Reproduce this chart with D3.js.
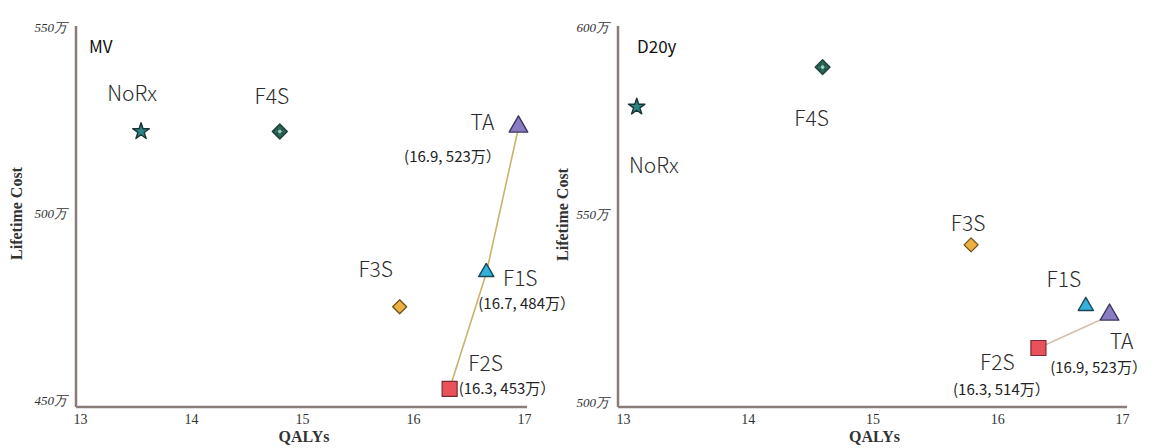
<!DOCTYPE html>
<html>
<head>
<meta charset="utf-8">
<script src="https://cdn.jsdelivr.net/npm/d3@7"></script>
<style>
  html, body { margin: 0; padding: 0; background: #ffffff; }
  svg { display: block; }
</style>
</head>
<body>
<svg id="chart" width="1163" height="448"></svg>
<script>
// ---------------- data ----------------
const categories = ["NoRx", "F4S", "F3S", "F1S", "F2S", "TA"];
const mvQALY   = [13.55, 14.80, 15.88, 16.66, 16.33, 16.95];
const mvCost   = [522, 522, 475, 484, 453, 523];
const d20QALY  = [13.11, 14.60, 15.79, 16.71, 16.33, 16.90];
const d20Cost  = [578.7, 589.3, 541.9, 525.3, 514.4, 523];
const xTicks     = [13, 14, 15, 16, 17];
const mvYTicks   = [450, 500, 550];
const d20YTicks  = [500, 550, 600];
const mvFrontier  = ["F2S", "F1S", "TA"];
const d20Frontier = ["F2S", "TA"];
const mvNotes  = { TA: "(16.9, 523万）", F1S: "(16.7, 484万）", F2S: "(16.3, 453万）" };
const d20Notes = { TA: "(16.9, 523万）", F2S: "(16.3, 514万）" };
const panelTitles = ["MV", "D20y"];
const xTitle = "QALYs";
const yTitle = "Lifetime Cost";

// ---------------- styles / layout ----------------
const markerStyle = {
  NoRx: { type: "star",     fill: "#2a8684", stroke: "#1c3434", size: 85 },
  F4S:  { type: "f4s",      fill: "#3b7b6c", stroke: "#1f3c36", size: 15 },
  F3S:  { type: "diamond",  fill: "#eeb043", stroke: "#6b5220", size: 14 },
  F1S:  { type: "triangle", fill: "#30b2da", stroke: "#1d4756", size: 100 },
  F2S:  { type: "square",   fill: "#e9515b", stroke: "#7a2a30", size: 225 },
  TA:   { type: "triangle", fill: "#8a7cc2", stroke: "#3c345e", size: 150 }
};

const panels = [
  {
    title: panelTitles[0], qaly: mvQALY, cost: mvCost, yTicks: mvYTicks,
    frontier: mvFrontier, notes: mvNotes, lineColor: "#c9b36c",
    xRange: [80, 524], yRange: [400, 27], yDomain: [450, 550],
    axisX: 76, axisY: 407, axisRight: 527, yTitleX: 18, titlePos: [89, 48],
    labelOff: {
      NoRx: [-9, -36, "middle"], F4S: [-8, -33, "middle"], F3S: [-24, -35, "middle"],
      F1S: [34, 7, "middle"], F2S: [36, -24, "middle"], TA: [-36, -3, "middle"]
    },
    noteOff: {
      TA: [-66, 30, "middle"], F1S: [-8, 32, "start"], F2S: [9, 1, "start"]
    }
  },
  {
    title: panelTitles[1], qaly: d20QALY, cost: d20Cost, yTicks: d20YTicks,
    frontier: d20Frontier, notes: d20Notes, lineColor: "#d4c0ae",
    xRange: [623, 1122], yRange: [402, 27], yDomain: [500, 600],
    axisX: 618, axisY: 407, axisRight: 1127, yTitleX: 564, titlePos: [637, 48],
    labelOff: {
      NoRx: [17, 60, "middle"], F4S: [-11, 53, "middle"], F3S: [-3, -20, "middle"],
      F1S: [-22, -26, "middle"], F2S: [-41, 16, "middle"], TA: [12, 28, "middle"]
    },
    noteOff: {
      TA: [-11, 53, "middle"], F2S: [-37, 43, "middle"]
    }
  }
];

const axisColor = "#8a7c78";
const labelFont = "'Noto Sans CJK JP', 'Noto Sans', sans-serif";
const serifFont = "'Liberation Serif', 'DejaVu Serif', serif";

const svg = d3.select("#chart");

panels.forEach(p => {
  const x = d3.scaleLinear().domain([13, 17]).range(p.xRange);
  const y = d3.scaleLinear().domain(p.yDomain).range(p.yRange);
  const g = svg.append("g");

  // axis lines
  g.append("line")
    .attr("x1", p.axisX).attr("x2", p.axisX)
    .attr("y1", y(p.yDomain[1]) - 1).attr("y2", p.axisY)
    .attr("stroke", axisColor).attr("stroke-width", 2.5);
  g.append("line")
    .attr("x1", p.axisX).attr("x2", p.axisRight)
    .attr("y1", p.axisY).attr("y2", p.axisY)
    .attr("stroke", axisColor).attr("stroke-width", 2.5);

  // x tick labels via d3 axis
  const xAxis = d3.axisBottom(x).tickValues(xTicks).tickSize(0).tickPadding(0)
    .tickFormat(d3.format("d"));
  const gx = g.append("g").attr("transform", `translate(0,${p.axisY + 5})`).call(xAxis);
  gx.select(".domain").remove();
  gx.selectAll("text")
    .attr("font-family", serifFont).attr("font-size", 14).attr("fill", "#333")
    .attr("dy", "0.85em");

  // y tick labels via d3 axis
  const yAxis = d3.axisLeft(y).tickValues(p.yTicks).tickSize(0).tickPadding(0)
    .tickFormat(d => d + "万");
  const gy = g.append("g").attr("transform", `translate(${p.axisX - 9},0)`).call(yAxis);
  gy.select(".domain").remove();
  gy.selectAll("text")
    .attr("font-family", serifFont).attr("font-size", 13).attr("font-style", "italic")
    .attr("fill", "#333");

  // axis titles
  g.append("text")
    .attr("x", (p.xRange[0] + p.xRange[1]) / 2 + 2)
    .attr("y", 442)
    .attr("text-anchor", "middle")
    .attr("font-family", serifFont).attr("font-weight", "bold").attr("font-size", 16)
    .attr("fill", "#333")
    .text(xTitle);
  g.append("text")
    .attr("transform", `translate(${p.yTitleX},${y((p.yDomain[0] + p.yDomain[1]) / 2)}) rotate(-90)`)
    .attr("text-anchor", "middle")
    .attr("dominant-baseline", "middle")
    .attr("font-family", serifFont).attr("font-weight", "bold").attr("font-size", 16)
    .attr("fill", "#333")
    .text(yTitle);

  // panel title
  g.append("text")
    .attr("x", p.titlePos[0]).attr("y", p.titlePos[1])
    .attr("dominant-baseline", "middle")
    .attr("font-family", labelFont).attr("font-size", 17).attr("fill", "#111")
    .text(p.title);

  const pts = categories.map((c, i) => ({ name: c, q: p.qaly[i], c: p.cost[i] }));
  const byName = Object.fromEntries(pts.map(d => [d.name, d]));

  // frontier line
  g.append("path")
    .datum(p.frontier.map(n => byName[n]))
    .attr("fill", "none")
    .attr("stroke", p.lineColor)
    .attr("stroke-width", 1.6)
    .attr("d", d3.line().x(d => x(d.q)).y(d => y(d.c)));

  // markers
  pts.forEach(d => {
    const s = markerStyle[d.name];
    const mg = g.append("g").attr("transform", `translate(${x(d.q)},${y(d.c)})`);
    if (s.type === "star") {
      mg.append("path").attr("d", d3.symbol(d3.symbolStar, s.size)())
        .attr("fill", s.fill).attr("stroke", s.stroke).attr("stroke-width", 1.4)
        .attr("stroke-linejoin", "round");
    } else if (s.type === "triangle") {
      mg.append("path").attr("d", d3.symbol(d3.symbolTriangle, s.size)())
        .attr("transform", "translate(0,-1)")
        .attr("fill", s.fill).attr("stroke", s.stroke).attr("stroke-width", 1.4)
        .attr("stroke-linejoin", "round");
    } else if (s.type === "square") {
      mg.append("path").attr("d", d3.symbol(d3.symbolSquare, s.size)())
        .attr("fill", s.fill).attr("stroke", s.stroke).attr("stroke-width", 1.2);
    } else if (s.type === "diamond") {
      const h = s.size / 2;
      mg.append("path").attr("d", `M0,${-h}L${h},0L0,${h}L${-h},0Z`)
        .attr("fill", s.fill).attr("stroke", s.stroke).attr("stroke-width", 1.3)
        .attr("stroke-linejoin", "round");
    } else if (s.type === "f4s") {
      const h = s.size / 2;
      mg.append("path").attr("d", `M0,${-h}L${h},0L0,${h}L${-h},0Z`)
        .attr("fill", s.fill).attr("stroke", s.stroke).attr("stroke-width", 1.3)
        .attr("stroke-linejoin", "round");
      [[-3, 0], [3, 0], [0, -3], [0, 3]].forEach(([a, b]) => {
        mg.append("circle").attr("cx", a).attr("cy", b).attr("r", 2.6)
          .attr("fill", "#2a6a5a").attr("stroke", "#1c3a34").attr("stroke-width", 0.6);
      });
      mg.append("circle").attr("r", 1.8).attr("fill", "#9fd0bf");
    }

    // marker label
    const lo = p.labelOff[d.name];
    g.append("text")
      .attr("x", x(d.q) + lo[0]).attr("y", y(d.c) + lo[1])
      .attr("text-anchor", lo[2])
      .attr("dominant-baseline", "middle")
      .attr("font-family", labelFont).attr("font-weight", 300)
      .attr("font-size", 21).attr("fill", "#2b2b2b")
      .text(d.name);

    // coordinate note
    if (p.notes[d.name]) {
      const no = p.noteOff[d.name];
      g.append("text")
        .attr("x", x(d.q) + no[0]).attr("y", y(d.c) + no[1])
        .attr("text-anchor", no[2])
        .attr("dominant-baseline", "middle")
        .attr("font-family", labelFont)
        .attr("font-size", 15).attr("fill", "#222")
        .text(p.notes[d.name]);
    }
  });
});
</script>
</body>
</html>
